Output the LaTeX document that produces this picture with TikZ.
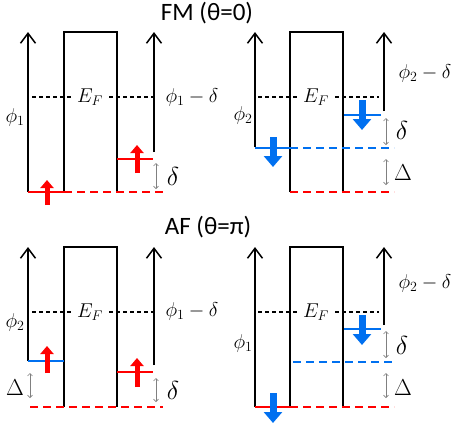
\RequirePackage{fix-cm}
\documentclass[tikz,border=0pt]{standalone}
\usepackage{fontspec}
\newfontfamily\ttlfont{Carlito}
\usepackage{amsmath}
\usepackage{tikz}
\usetikzlibrary{arrows.meta}
\definecolor{cRed}{RGB}{255,0,0}
\definecolor{cBlue}{RGB}{0,112,240}
\definecolor{cGap}{RGB}{128,128,128}
\tikzset{
	barrier/.style={line width=1.5pt},
	workfn/.style={line width=1.5pt, -{Straight Barb[length=10pt,width=15pt]}},
	efline/.style={line width=1.1pt, dash pattern=on 4pt off 3pt},
	lvl/.style={line width=2pt},
	lvldash/.style={lvl, dash pattern=on 8pt off 5pt},
	% spin arrows
	spinup/.style={cRed, line width=5pt, -{Triangle[length=8pt,width=13pt]}},
	spindn/.style={cBlue, line width=7pt, -{Triangle[length=11pt,width=18pt]}},
	split/.style={cGap, line width=0.6pt, {Straight Barb[length=2.5pt,width=5pt]}-{Straight Barb[length=2.5pt,width=5pt]}},
	ttl/.style={font=\ttlfont\fontsize{25}{30}\selectfont},
	sym/.style={font=\fontsize{23}{27}\selectfont},
	dsym/.style={font=\fontsize{26}{30}\selectfont},
}
\begin{document}
\begin{tikzpicture}[x=1pt, y=-1pt, font=\fontsize{20}{24}\selectfont]
	\useasboundingbox (0,0) rectangle (453,429);
	% frame of each panel: barrier, Fermi level, work functions
	\foreach \dx/\dy/\lx/\lb/\rx/\rb in {
		0/0/28/192/154/152,
		226/0/29/147/158/111,
		0/215/28/146/154/150,
		226/215/29/192/158/110} {
		\begin{scope}[shift={(\dx,\dy)}]
			\draw[workfn] (\lx,\lb) -- (\lx,32);
			\draw[workfn] (\rx,\rb) -- (\rx,32);
			\draw[barrier] (64,192) -- (64,32) -- (117,32) -- (117,192);
			\draw[efline] (32,97) -- (153,97);
			\node[fill=white, inner sep=5pt] (ef\dx\dy) at (90,97) {$E_F$};
		\end{scope}
	}

	% FM (theta=0), majority
	\node[ttl] (ttlFM) at (207,13) {FM (θ=0)};
	\draw[lvl, cRed] (28,192) -- (64,192);
	\draw[lvldash, cRed] (64,192) -- (167,192);
	\draw[lvl, cRed] (117,159) -- (153,159);
	\draw[spinup] (47,205) -- (47,180);
	\draw[spinup] (137,173) -- (137,145);
	\draw[split] (156,163) -- (156,189);
	\node[dsym] (dFMa) at (173,176) {$\delta$};
	\node (phFMa) at (15,117) {$\phi_1$};
	\node (rFMa) at (192,97) {$\phi_1-\delta$};

	% FM (theta=0), minority
	\draw[lvldash, cRed] (290,192) -- (394,192);
	\draw[lvl, cBlue] (255,148) -- (290,148);
	\draw[lvldash, cBlue] (290,148) -- (394,148);
	\draw[lvl, cBlue] (344,115) -- (381,115);
	\draw[spindn] (273,137) -- (273,167);
	\draw[spindn] (362,100) -- (362,130);
	\draw[split] (386,118) -- (386,145);
	\draw[split] (386,159) -- (386,185);
	\node[dsym] (dFMb) at (402,130) {$\delta$};
	\node[sym] (gFMb) at (403,173) {$\Delta$};
	\node (phFMb) at (243,115) {$\phi_2$};
	\node (rFMb) at (425,73) {$\phi_2-\delta$};

	% AF (theta=pi), majority
	\node[ttl] (ttlAF) at (208,227) {AF (θ=π)};
	\draw[lvl, cBlue] (28,361) -- (64,361);
	\draw[lvldash, cRed] (30,407) -- (163,407);
	\draw[lvl, cRed] (117,372) -- (153,372);
	\draw[spinup] (47,373) -- (47,346);
	\draw[spinup] (137,387) -- (137,358);
	\draw[split] (30,373) -- (30,398);
	\draw[split] (156,378) -- (156,402);
	\node[sym] (gAFa) at (15,388) {$\Delta$};
	\node[dsym] (dAFa) at (173,390) {$\delta$};
	\node (phAFa) at (15,322) {$\phi_2$};
	\node (rAFa) at (192,311) {$\phi_1-\delta$};

	% AF (theta=pi), minority
	\draw[lvl, cRed] (255,407) -- (290,407);
	\draw[lvldash, cRed] (290,407) -- (394,407);
	\draw[lvldash, cBlue] (293,362) -- (394,362);
	\draw[lvl, cBlue] (344,329) -- (381,329);
	\draw[spindn] (273,393) -- (273,423);
	\draw[spindn] (362,315) -- (362,345);
	\draw[split] (386,331) -- (386,358);
	\draw[split] (386,373) -- (386,398);
	\node[dsym] (dAFb) at (402,345) {$\delta$};
	\node[sym] (gAFb) at (403,388) {$\Delta$};
	\node (phAFb) at (243,343) {$\phi_1$};
	\node (rAFb) at (425,283) {$\phi_2-\delta$};
\end{tikzpicture}
\end{document}
